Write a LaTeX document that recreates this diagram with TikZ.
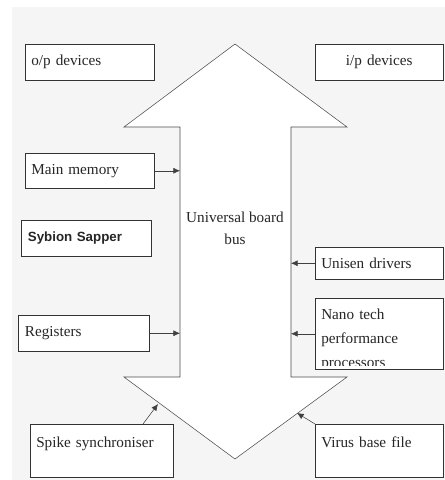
\documentclass[tikz,border=0pt]{standalone}
\usepackage{fontspec}
\setmainfont{Liberation Serif}
\newfontfamily\sapperfont{Liberation Sans}
\usetikzlibrary{arrows.meta}

\begin{document}
\begin{tikzpicture}[x=0.75pt,y=-0.75pt,
every node/.style={font=\fontsize{11.4}{18}\selectfont,text=black!85},
unit/.style={draw=black!80,fill=white,anchor=north west,align=left,inner xsep=4.5pt,inner ysep=0pt},
link/.style={draw=black!75,-{Latex[length=5pt,width=4.5pt]}}]
\useasboundingbox (0,0) rectangle (445,480);
\fill[black!4] (12,7) rectangle (445,480);
\draw[fill=white,draw=black!70] (235,44) -- (347,127) -- (291,127) -- (291,377) -- (347,377) -- (235,459) -- (124,377) -- (180,377) -- (180,127) -- (124,127) -- cycle;
\coordinate (busL) at (180,127);
\coordinate (busR) at (291,127);
\coordinate (spikehit) at (158,404);
\coordinate (virushit) at (297,413);
\node[align=center,font=\fontsize{11.4}{16.5}\selectfont] (bus) at (235,228) {Universal board\\bus};
\node[unit,text width=87.75pt,minimum height=27pt] (op) at (25,44) {o/p devices};
\node[unit,text width=87pt,minimum height=27pt,align=center] (ip) at (315,44) {i/p devices};
\node[unit,text width=87.75pt,minimum height=26.25pt] (mem) at (25,153) {Main memory};
\node[unit,text width=87.75pt,minimum height=27pt,inner xsep=5pt,font=\sapperfont\bfseries\fontsize{10}{12}\selectfont] (syb) at (21,220) {Sybion Sapper};
\node[unit,text width=88.5pt,minimum height=27pt,inner xsep=5pt] (reg) at (18,315) {Registers};
\node[unit,text width=87pt,minimum height=24pt] (uni) at (315,247) {Unisen drivers};
\node[unit,minimum width=96pt,minimum height=53.25pt] (nano) at (315,298) {};
\begin{scope}
\clip (315,298) rectangle (443,365.5);
\node[anchor=base west,align=left,text width=87pt,inner sep=0pt] (nanotext) at (321,319) {Nano tech\\performance\\processors};
\end{scope}
\node[unit,text width=98.25pt,text height=17.1pt,text depth=22.65pt] (spike) at (30,424) {Spike synchroniser};
\node[unit,text width=87pt,text height=17.1pt,text depth=22.65pt] (virus) at (315,424) {Virus base file};
\draw[link] (mem.east) -- (mem.east -| busL);
\draw[link] (reg.east) -- (reg.east -| busL);
\draw[link] (uni.west) -- (uni.west -| busR);
\draw[link] (nano.west) -- (nano.west -| busR);
\draw[link] ([xshift=84.75pt]spike.north west) -- (spikehit);
\draw[link] (virus.north west) -- (virushit);
\end{tikzpicture}
\end{document}
